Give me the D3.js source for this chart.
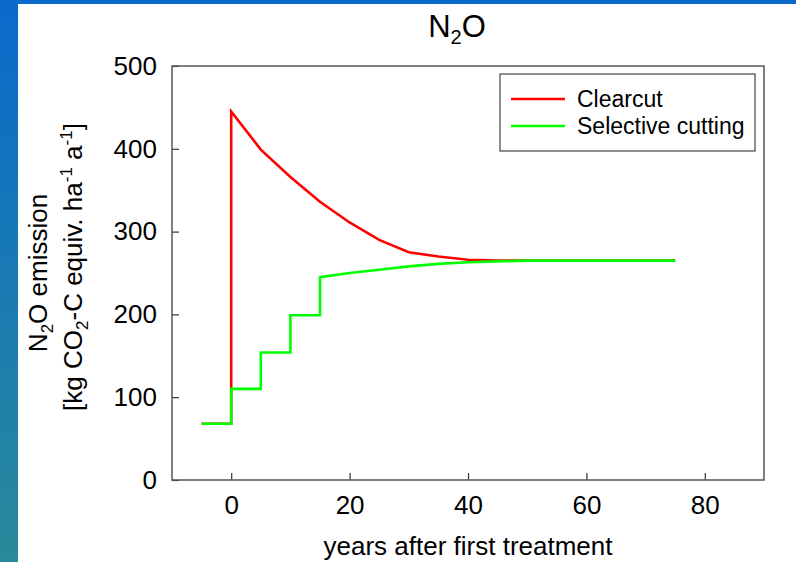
<!DOCTYPE html>
<html>
<head>
<meta charset="utf-8">
<script src="https://cdn.jsdelivr.net/npm/d3@7"></script>
<style>
  body { margin: 0; padding: 0; overflow: hidden; }
  svg { display: block; font-family: "Liberation Sans", Arial, sans-serif; }
</style>
</head>
<body>
<div id="chart"></div>
<script>
// Data
var clearcutYears = [-5, 0, 0, 5, 10, 15, 20, 25, 30, 35, 40, 45, 50, 75];
var clearcutValues = [68, 68, 445, 399, 366, 336, 311, 290, 275, 270, 266, 265, 265, 265];

var selectiveYears = [-5, 0, 0, 5, 5, 10, 10, 15, 15, 20, 25, 30, 35, 40, 45, 50, 75];
var selectiveValues = [68, 68, 110, 110, 154, 154, 199, 199, 245, 250, 254, 258, 261, 263, 264, 265, 265];

var xTicks = [0, 20, 40, 60, 80];
var yTicks = [0, 100, 200, 300, 400, 500];
var seriesNames = ["Clearcut", "Selective cutting"];
var seriesColors = ["#ff0000", "#00ff00"];

// dimensions
var W = 796, H = 562;
var margin = { left: 172, top: 66, right: 32, bottom: 82 };
var width = W - margin.left - margin.right;
var height = H - margin.top - margin.bottom;

var x = d3.scaleLinear().domain([-10, 90]).range([0, width]);
var y = d3.scaleLinear().domain([0, 500]).range([height, 0]);

var svg = d3.select("#chart").append("svg").attr("width", W).attr("height", H);

// blue background with white panel
var grad = svg.append("defs").append("linearGradient")
  .attr("id", "bg").attr("x1", 0).attr("y1", 0).attr("x2", 0).attr("y2", 1);
grad.append("stop").attr("offset", "0%").attr("stop-color", "#0a6acc");
grad.append("stop").attr("offset", "100%").attr("stop-color", "#288a9a");

svg.append("rect").attr("width", W).attr("height", H).attr("fill", "url(#bg)");
svg.append("rect").attr("x", 18).attr("y", 4).attr("width", W - 18).attr("height", H - 4).attr("fill", "#ffffff");

var g = svg.append("g").attr("transform", "translate(" + margin.left + "," + margin.top + ")");

// axes with inward ticks
var xAxis = g.append("g")
  .attr("transform", "translate(0," + height + ")")
  .call(d3.axisBottom(x).tickValues(xTicks).tickSize(-7).tickPadding(12).tickSizeOuter(0));
var yAxis = g.append("g")
  .call(d3.axisLeft(y).tickValues(yTicks).tickSize(-7).tickPadding(15).tickSizeOuter(0));

[xAxis, yAxis].forEach(function (a) {
  a.select(".domain").remove();
  a.selectAll(".tick line").attr("stroke", "#333").attr("stroke-width", 1.2);
  a.selectAll(".tick text").attr("font-size", 26).attr("fill", "#000")
    .style("font-family", "'Liberation Sans', Arial, sans-serif");
});
xAxis.selectAll(".tick text").attr("dy", "0.85em");

// frame
g.append("rect")
  .attr("width", width).attr("height", height)
  .attr("fill", "none").attr("stroke", "#555").attr("stroke-width", 1.5);

// lines
var line = d3.line()
  .x(function (d) { return x(d[0]); })
  .y(function (d) { return y(d[1]); });

var clearcut = d3.zip(clearcutYears, clearcutValues);
var selective = d3.zip(selectiveYears, selectiveValues);

g.append("path").datum(clearcut)
  .attr("d", line).attr("fill", "none")
  .attr("stroke", seriesColors[0]).attr("stroke-width", 2.6);
g.append("path").datum(selective)
  .attr("d", line).attr("fill", "none")
  .attr("stroke", seriesColors[1]).attr("stroke-width", 2.6);

// title
var title = svg.append("text").attr("x", 457).attr("y", 37)
  .attr("text-anchor", "middle").attr("font-size", 31).attr("fill", "#000");
title.append("tspan").text("N");
title.append("tspan").attr("font-size", 20).attr("dy", 7).text("2");
title.append("tspan").attr("dy", -7).text("O");

// x label
svg.append("text").attr("x", 468).attr("y", 555)
  .attr("text-anchor", "middle").attr("font-size", 26).attr("fill", "#000")
  .text("years after first treatment");

// y label (two lines)
var yl1 = svg.append("text")
  .attr("transform", "translate(47," + (margin.top + height / 2) + ") rotate(-90)")
  .attr("text-anchor", "middle").attr("font-size", 26).attr("fill", "#000");
yl1.append("tspan").text("N");
yl1.append("tspan").attr("font-size", 17).attr("dy", 6).text("2");
yl1.append("tspan").attr("dy", -6).text("O emission");

var yl2 = svg.append("text")
  .attr("transform", "translate(82," + (margin.top + height / 2 - 6) + ") rotate(-90)")
  .attr("text-anchor", "middle").attr("font-size", 26).attr("fill", "#000");
yl2.append("tspan").text("[kg CO");
yl2.append("tspan").attr("font-size", 17).attr("dy", 6).text("2");
yl2.append("tspan").attr("dy", -6).text("-C equiv. ha");
yl2.append("tspan").attr("font-size", 17).attr("dy", -10).text("-1");
yl2.append("tspan").attr("dy", 10).text(" a");
yl2.append("tspan").attr("font-size", 17).attr("dy", -10).text("-1");
yl2.append("tspan").attr("dy", 10).text("]");

// legend
var legend = svg.append("g").attr("transform", "translate(500,74)");
legend.append("rect").attr("width", 255).attr("height", 77)
  .attr("fill", "#fff").attr("stroke", "#444").attr("stroke-width", 1.2);
seriesNames.forEach(function (name, i) {
  var ly = 25 + i * 27;
  legend.append("line").attr("x1", 11).attr("x2", 65).attr("y1", ly).attr("y2", ly)
    .attr("stroke", seriesColors[i]).attr("stroke-width", 2.6);
  legend.append("text").attr("x", 77).attr("y", ly + 8)
    .attr("font-size", 23).attr("fill", "#000").text(name);
});
</script>
</body>
</html>
